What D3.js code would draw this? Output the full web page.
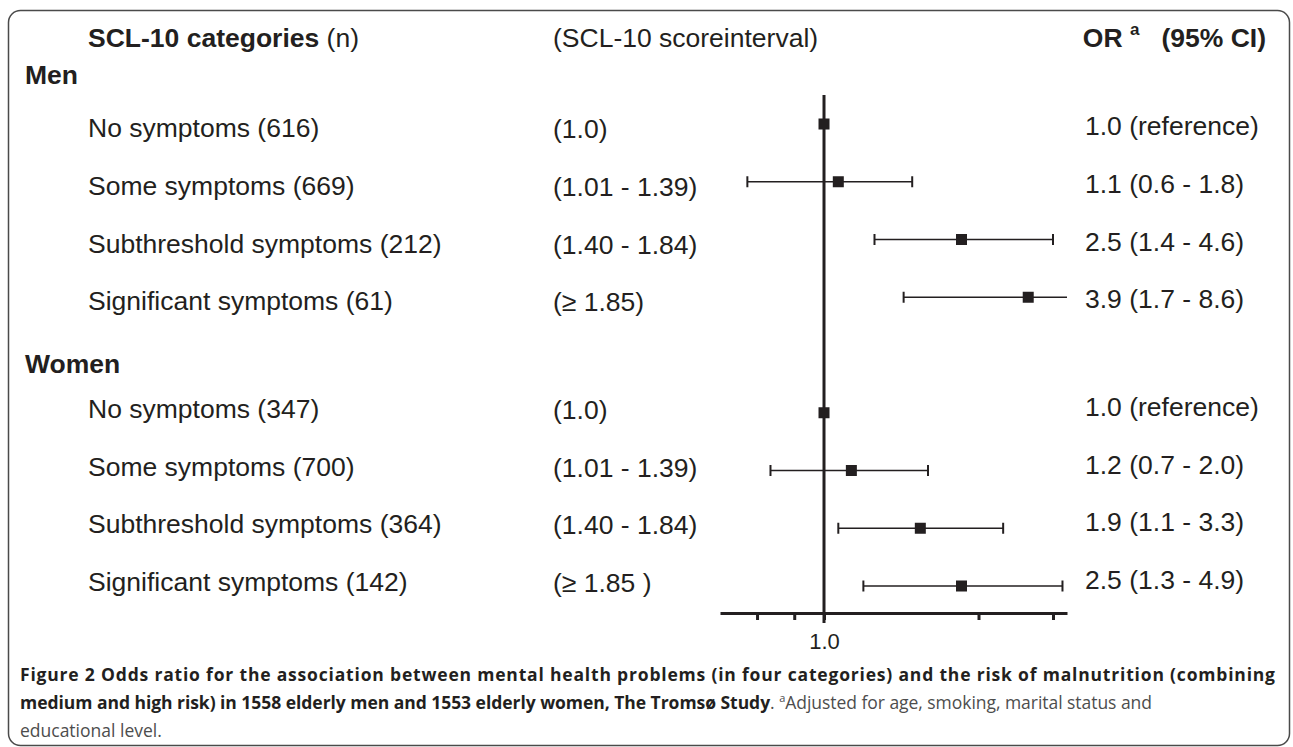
<!DOCTYPE html>
<html>
<head>
<meta charset="utf-8">
<script src="https://cdn.jsdelivr.net/npm/d3@7"></script>
<style>
  body { margin: 0; background: #fff; }
  .plot text { font-family: "Liberation Sans", Arial, sans-serif; fill: #231f20; }
  .caption text { font-family: "Open Sans", sans-serif; }
</style>
</head>
<body>
<div id="chart"></div>
<script>
// Data
var categories = ["No symptoms", "Some symptoms", "Subthreshold symptoms", "Significant symptoms"];
var menN = [616, 669, 212, 61];
var womenN = [347, 700, 364, 142];
var menIntervals = ["(1.0)", "(1.01 - 1.39)", "(1.40 - 1.84)", "(\u2265 1.85)"];
var womenIntervals = ["(1.0)", "(1.01 - 1.39)", "(1.40 - 1.84)", "(\u2265 1.85 )"];
var menOR = [1.0, 1.1, 2.5, 3.9];
var menLow = [null, 0.6, 1.4, 1.7];
var menHigh = [null, 1.8, 4.6, 8.6];
var womenOR = [1.0, 1.2, 1.9, 2.5];
var womenLow = [null, 0.7, 1.1, 1.3];
var womenHigh = [null, 2.0, 3.3, 4.9];
var xTicks = [0.64, 0.82, 1.0, 2.8, 4.6];

var svgWidth = 1293;
var svgHeight = 747;

var svg = d3.select("#chart")
    .append("svg")
    .attr("width", svgWidth)
    .attr("height", svgHeight);

// Outer frame
svg.append("rect")
    .attr("x", 8.5)
    .attr("y", 10.5)
    .attr("width", 1281)
    .attr("height", 735)
    .attr("rx", 12)
    .attr("fill", "none")
    .attr("stroke", "#4a4a4a")
    .attr("stroke-width", 1.5);

// Build rows (men in slots 0-3, women in slots 5-8)
var rows = [];
categories.forEach((c, i) => {
    rows.push({slot: i, men: true, label: c + " (" + menN[i] + ")", interval: menIntervals[i],
        or: menOR[i], lo: menLow[i], hi: menHigh[i]});
});
categories.forEach((c, i) => {
    rows.push({slot: i + 5, men: false, label: c + " (" + womenN[i] + ")", interval: womenIntervals[i],
        or: womenOR[i], lo: womenLow[i], hi: womenHigh[i]});
});

var fmt = d3.format(".1f");

// Scales
var xScale = d3.scaleLog()
    .domain([0.5, 5.05])
    .range([720, 1067])
    .clamp(true);

var yScale = d3.scaleLinear()
    .domain([0, 8])
    .range([124, 586]);

// text sits a little below the marks for men and a little above for women
var textY = d => yScale(d.slot) + (d.men ? 4 : -4);

var plot = svg.append("g").attr("class", "plot");

// Column headers
var h1 = plot.append("text")
    .attr("x", 88)
    .attr("y", 38)
    .attr("dominant-baseline", "central")
    .attr("font-size", 26.5);
h1.append("tspan").attr("font-weight", "bold").text("SCL-10 categories");
h1.append("tspan").text(" (n)");

plot.append("text")
    .attr("x", 553)
    .attr("y", 38)
    .attr("dominant-baseline", "central")
    .attr("font-size", 26.5)
    .text("(SCL-10 scoreinterval)");

var h3 = plot.append("text")
    .attr("x", 1266)
    .attr("y", 47)
    .attr("text-anchor", "end")
    .attr("font-size", 26.5)
    .attr("font-weight", "bold");
h3.append("tspan").text("OR ");
h3.append("tspan").attr("font-size", 17).attr("dy", -12).text("a");
h3.append("tspan").attr("dy", 12).text("\u00a0\u00a0 (95% CI)");

// Group labels
plot.append("text")
    .attr("x", 25)
    .attr("y", 75)
    .attr("dominant-baseline", "central")
    .attr("font-size", 26.5)
    .attr("font-weight", "bold")
    .text("Men");

plot.append("text")
    .attr("x", 25)
    .attr("y", 364)
    .attr("dominant-baseline", "central")
    .attr("font-size", 26.5)
    .attr("font-weight", "bold")
    .text("Women");

// Row labels
plot.append("g").selectAll("text")
    .data(rows)
    .enter()
    .append("text")
    .attr("x", 88)
    .attr("y", textY)
    .attr("dominant-baseline", "central")
    .attr("font-size", 26.5)
    .text(d => d.label);

plot.append("g").selectAll("text")
    .data(rows)
    .enter()
    .append("text")
    .attr("x", 553)
    .attr("y", d => textY(d) + 1)
    .attr("dominant-baseline", "central")
    .attr("font-size", 26.5)
    .text(d => d.interval);

plot.append("g").selectAll("text")
    .data(rows)
    .enter()
    .append("text")
    .attr("x", 1085)
    .attr("y", d => textY(d) - 2)
    .attr("dominant-baseline", "central")
    .attr("font-size", 26.5)
    .text(d => d.lo == null ? fmt(d.or) + " (reference)"
        : fmt(d.or) + " (" + fmt(d.lo) + " - " + fmt(d.hi) + ")");

// Axis
var bottomAxis = d3.axisBottom(xScale)
    .tickValues(xTicks)
    .tickFormat(d => d === 1 ? "1.0" : "")
    .tickSizeInner(7)
    .tickSizeOuter(0)
    .tickPadding(13);

var axisG = plot.append("g")
    .attr("transform", "translate(0, 613)")
    .call(bottomAxis);
axisG.select(".domain").attr("stroke", "#231f20").attr("stroke-width", 3);
axisG.selectAll(".tick line").attr("stroke", "#231f20").attr("stroke-width", 3);
axisG.selectAll(".tick text")
    .attr("font-size", 22)
    .attr("fill", "#231f20")
    .style("font-family", "Liberation Sans, Arial, sans-serif");

// Reference line at OR = 1
plot.append("line")
    .attr("x1", xScale(1))
    .attr("x2", xScale(1))
    .attr("y1", 95)
    .attr("y2", 623)
    .attr("stroke", "#231f20")
    .attr("stroke-width", 3);

// Confidence intervals
var ciRows = rows.filter(d => d.lo != null);

plot.append("g").selectAll("line")
    .data(ciRows)
    .enter()
    .append("line")
    .attr("x1", d => xScale(d.lo))
    .attr("x2", d => xScale(d.hi))
    .attr("y1", d => yScale(d.slot))
    .attr("y2", d => yScale(d.slot))
    .attr("stroke", "#231f20")
    .attr("stroke-width", 1.6);

var caps = [];
ciRows.forEach(d => {
    caps.push({v: d.lo, slot: d.slot});
    if (d.hi <= xScale.domain()[1]) caps.push({v: d.hi, slot: d.slot});
});

plot.append("g").selectAll("line")
    .data(caps)
    .enter()
    .append("line")
    .attr("x1", d => xScale(d.v))
    .attr("x2", d => xScale(d.v))
    .attr("y1", d => yScale(d.slot) - 5.5)
    .attr("y2", d => yScale(d.slot) + 5.5)
    .attr("stroke", "#231f20")
    .attr("stroke-width", 2);

// Point estimates
plot.append("g").selectAll("rect")
    .data(rows)
    .enter()
    .append("rect")
    .attr("x", d => xScale(d.or) - 5.5)
    .attr("y", d => yScale(d.slot) - 5.5)
    .attr("width", 11)
    .attr("height", 11)
    .attr("fill", "#231f20");

// Caption
var cap = svg.append("g").attr("class", "caption");

cap.append("text")
    .attr("x", 20)
    .attr("y", 681)
    .attr("font-size", 17.5)
    .attr("font-weight", "bold")
    .attr("fill", "#231f20")
    .attr("textLength", 1255)
    .attr("lengthAdjust", "spacing")
    .text("Figure 2 Odds ratio for the association between mental health problems (in four categories) and the risk of malnutrition (combining");

var line2 = cap.append("text")
    .attr("x", 20)
    .attr("y", 709)
    .attr("font-size", 17.5)
    .attr("fill", "#4d4d4d")
    .attr("textLength", 1132)
    .attr("lengthAdjust", "spacing");
line2.append("tspan").attr("font-weight", "bold").attr("fill", "#231f20")
    .text("medium and high risk) in 1558 elderly men and 1553 elderly women, The Troms\u00f8 Study");
line2.append("tspan").text(". ");
line2.append("tspan").attr("font-size", 11).attr("dy", -7).text("a");
line2.append("tspan").attr("dy", 7).text("Adjusted for age, smoking, marital status and");

cap.append("text")
    .attr("x", 20)
    .attr("y", 737)
    .attr("font-size", 17.5)
    .attr("fill", "#4d4d4d")
    .text("educational level.");
</script>
</body>
</html>
